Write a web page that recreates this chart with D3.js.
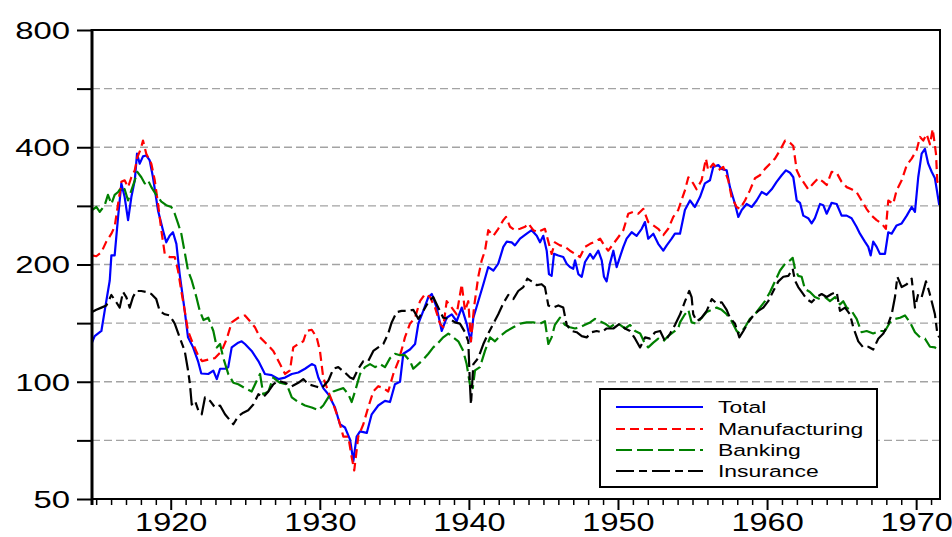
<!DOCTYPE html>
<html><head><meta charset="utf-8">
<script src="https://cdn.jsdelivr.net/npm/d3@7"></script>
<style>html,body{margin:0;padding:0;background:#fff;} svg{display:block;}</style>
</head><body>
<svg id="chart" width="952" height="537"></svg>
<script>
const seriesNames = ["Total", "Manufacturing", "Banking", "Insurance"];
const seriesColors = ["#0000ff", "#ff0000", "#008000", "#000000"];
const seriesDashes = [null, "9,5", "16,5", "18,5,8,5"];

const total = [[1914.72,126],[1914.9,131],[1915.35,135],[1915.57,152],[1915.91,182],[1916.02,211],[1916.24,211],[1916.47,265],[1916.69,323],[1916.91,298],[1917.14,260],[1917.36,298],[1917.59,329],[1917.74,385],[1917.92,363],[1918.14,379],[1918.36,381],[1918.59,370],[1918.81,335],[1919.15,275],[1919.48,245],[1919.7,228],[1919.93,237],[1920.15,242],[1920.38,226],[1920.6,189],[1920.94,152],[1921.16,130],[1921.5,122.6],[1921.83,113],[1922.05,105],[1922.52,104.7],[1922.86,106.8],[1923.09,101.6],[1923.31,108],[1923.64,108],[1923.86,109],[1924.09,122.5],[1924.53,126],[1924.76,127],[1924.98,125],[1925.43,120],[1925.88,113],[1926.32,104.7],[1926.77,104],[1927.22,101.6],[1927.67,102.5],[1928.12,104.7],[1928.56,105.6],[1929.01,108],[1929.46,111],[1929.68,110],[1929.9,102.5],[1930.23,96.3],[1930.57,92.9],[1931.02,85.9],[1931.35,77.8],[1931.69,76.3],[1932.03,71],[1932.25,62.6],[1932.47,72.3],[1932.7,74.6],[1933.15,73.9],[1933.48,82.5],[1933.92,86.9],[1934.37,89.3],[1934.71,88.7],[1935.04,98.5],[1935.38,100],[1935.6,118],[1936.05,121],[1936.39,125],[1936.61,141],[1936.94,152],[1937.28,165],[1937.51,168],[1937.84,155],[1938.18,135],[1938.51,146],[1938.85,149],[1939.18,143],[1939.52,155],[1939.85,141],[1940.12,127],[1940.3,146],[1940.63,161],[1940.97,178],[1941.3,197],[1941.64,193],[1941.97,201],[1942.31,222],[1942.54,229],[1942.87,228],[1943.09,224],[1943.43,233],[1943.88,240],[1944.21,245],[1944.55,237],[1944.77,228],[1944.99,237],[1945.22,217],[1945.37,189],[1945.55,187],[1945.71,213],[1946.0,211],[1946.33,209],[1946.56,201],[1946.78,197],[1947.0,195],[1947.12,205],[1947.34,189],[1947.57,186],[1947.79,203],[1948.13,213],[1948.34,207],[1948.68,217],[1948.91,205],[1949.06,186],[1949.24,181],[1949.46,201],[1949.69,217],[1949.91,197],[1950.13,209],[1950.36,222],[1950.58,233],[1950.92,242],[1951.25,237],[1951.59,247],[1951.81,257],[1952.03,233],[1952.37,240],[1952.7,226],[1953.04,217],[1953.27,224],[1953.6,233],[1953.82,240],[1954.16,240],[1954.49,276],[1954.83,292],[1955.16,281],[1955.5,298],[1955.83,323],[1956.17,329],[1956.39,356],[1956.73,360],[1956.95,352],[1957.29,349],[1957.51,316],[1957.85,286],[1958.07,265],[1958.3,276],[1958.63,286],[1958.97,281],[1959.3,292],[1959.64,307],[1959.97,302],[1960.31,312],[1960.64,326],[1960.98,339],[1961.27,349],[1961.54,344],[1961.76,335],[1961.99,292],[1962.21,288],[1962.43,267],[1962.76,263],[1962.99,255],[1963.21,263],[1963.55,286],[1963.77,284],[1964.0,270],[1964.33,288],[1964.67,286],[1965.0,267],[1965.34,267],[1965.67,263],[1966.0,250],[1966.23,240],[1966.56,229],[1966.79,222],[1966.95,211],[1967.12,229],[1967.35,222],[1967.57,213],[1967.91,213],[1968.13,242],[1968.36,240],[1968.69,252],[1969.03,255],[1969.37,267],[1969.7,281],[1969.92,273],[1970.14,335],[1970.37,385],[1970.59,396],[1970.81,363],[1971.04,346],[1971.26,333],[1971.55,284]];

const manufacturing = [[1914.72,211],[1915.01,210],[1915.35,215],[1915.68,229],[1916.02,240],[1916.24,250],[1916.47,286],[1916.69,326],[1916.91,329],[1917.14,316],[1917.36,335],[1917.59,349],[1917.76,377],[1917.99,396],[1918.14,416],[1918.36,385],[1918.7,363],[1918.93,329],[1919.15,286],[1919.37,245],[1919.6,213],[1919.93,209],[1920.27,209],[1920.49,193],[1920.71,171],[1920.94,152],[1921.16,135],[1921.5,125],[1921.83,117],[1922.1,113],[1922.52,114],[1922.97,115],[1923.42,120],[1923.76,129],[1924.09,142],[1924.53,146],[1924.98,148],[1925.32,143],[1925.65,138],[1925.99,130],[1926.44,125],[1926.88,120],[1927.33,111],[1927.67,104.7],[1928.0,107],[1928.22,122.5],[1928.56,125],[1928.89,127],[1929.12,135],[1929.46,136],[1929.79,130],[1930.01,120],[1930.23,102.5],[1930.57,94.4],[1930.91,87.4],[1931.24,80.6],[1931.58,72.3],[1931.91,72.3],[1932.14,64],[1932.31,59.2],[1932.58,72.3],[1932.92,77.8],[1933.25,86],[1933.59,94.4],[1933.92,97.4],[1934.26,96.3],[1934.59,94.4],[1934.93,104.7],[1935.27,113],[1935.6,125],[1935.71,130],[1936.05,141],[1936.39,146],[1936.72,161],[1937.06,168],[1937.39,165],[1937.73,155],[1938.06,141],[1938.28,138],[1938.51,161],[1938.85,155],[1939.18,149],[1939.52,178],[1939.74,152],[1939.96,161],[1940.14,127],[1940.34,155],[1940.63,186],[1940.86,205],[1941.08,217],[1941.3,245],[1941.64,237],[1941.97,247],[1942.31,260],[1942.49,265],[1942.76,250],[1943.09,245],[1943.43,247],[1943.77,250],[1943.98,255],[1944.32,245],[1944.65,242],[1944.88,245],[1945.1,247],[1945.33,229],[1945.55,213],[1945.77,228],[1946.11,224],[1946.44,222],[1946.78,217],[1947.12,213],[1947.45,209],[1947.79,222],[1948.13,226],[1948.46,229],[1948.8,233],[1949.14,222],[1949.35,217],[1949.69,226],[1950.02,235],[1950.36,245],[1950.69,270],[1951.03,273],[1951.36,270],[1951.7,278],[1952.03,257],[1952.37,252],[1952.7,247],[1953.04,238],[1953.37,247],[1953.71,265],[1954.04,276],[1954.49,310],[1954.72,335],[1955.05,323],[1955.27,312],[1955.61,329],[1955.9,374],[1956.05,349],[1956.39,363],[1956.73,349],[1957.06,356],[1957.4,329],[1957.62,298],[1957.96,281],[1958.18,278],[1958.52,292],[1958.85,310],[1959.19,333],[1959.52,339],[1959.86,352],[1960.2,363],[1960.53,374],[1960.87,393],[1961.21,416],[1961.54,411],[1961.76,403],[1961.99,349],[1962.21,335],[1962.43,326],[1962.76,312],[1963.1,323],[1963.43,333],[1963.77,326],[1964.0,320],[1964.33,346],[1964.67,344],[1965.0,326],[1965.34,316],[1965.67,312],[1966.0,307],[1966.34,292],[1966.67,278],[1967.01,267],[1967.35,260],[1967.68,255],[1967.97,247],[1968.13,292],[1968.46,286],[1968.69,310],[1969.03,329],[1969.37,360],[1969.7,374],[1970.03,393],[1970.26,425],[1970.48,416],[1970.7,432],[1970.93,407],[1971.11,446],[1971.33,385],[1971.42,326],[1971.55,329]];

const banking = [[1914.72,276],[1915.01,281],[1915.24,273],[1915.57,284],[1915.79,302],[1916.02,286],[1916.24,302],[1916.47,307],[1916.69,316],[1916.91,312],[1917.14,292],[1917.36,310],[1917.59,329],[1917.76,346],[1918.03,335],[1918.26,323],[1918.48,329],[1918.7,316],[1919.03,302],[1919.37,290],[1919.7,284],[1920.04,281],[1920.27,270],[1920.49,255],[1920.71,240],[1920.94,215],[1921.16,193],[1921.41,182],[1921.72,165],[1921.95,152],[1922.2,144],[1922.52,146],[1922.86,135],[1923.09,122.5],[1923.31,125],[1923.53,115],[1923.86,104.7],[1924.2,99.4],[1924.53,98.5],[1924.98,96.3],[1925.43,94.4],[1925.77,100.6],[1925.99,104.7],[1926.21,92.9],[1926.55,94.4],[1926.88,102.5],[1927.33,99.4],[1927.78,98.5],[1928.12,91.2],[1928.56,88.7],[1929.01,86.9],[1929.46,85.9],[1929.9,84.5],[1930.23,86.9],[1930.57,91.2],[1930.91,94.4],[1931.24,95.4],[1931.58,96.3],[1931.91,92.9],[1932.14,88.7],[1932.36,94.4],[1932.7,104.7],[1933.03,109],[1933.37,111],[1933.71,109],[1934.04,111],[1934.37,109],[1934.71,115],[1935.04,118],[1935.38,117],[1935.71,117],[1936.05,113],[1936.27,108],[1936.61,111],[1936.94,114],[1937.28,118],[1937.61,122.5],[1937.95,126],[1938.28,130],[1938.62,133],[1938.95,130],[1939.29,127],[1939.62,120],[1939.85,111],[1940.07,98.5],[1940.26,96.3],[1940.41,107],[1940.74,109],[1941.08,120],[1941.42,130],[1941.75,127],[1942.09,131],[1942.54,135],[1942.98,138],[1943.43,141],[1943.88,142],[1944.32,142],[1944.77,141],[1945.1,143],[1945.33,125],[1945.55,130],[1945.77,140],[1946.11,146],[1946.44,140],[1946.78,138],[1947.12,137],[1947.45,138],[1947.79,140],[1948.13,142],[1948.46,145],[1948.8,143],[1949.14,141],[1949.47,138],[1949.81,141],[1950.14,140],[1950.48,137],[1950.81,140],[1951.15,135],[1951.49,133],[1951.82,125],[1952.03,122.5],[1952.37,126],[1952.7,129],[1953.04,127],[1953.37,131],[1953.71,134],[1954.04,137],[1954.16,142],[1954.49,149],[1954.72,153],[1954.94,142],[1955.28,141],[1955.61,146],[1955.95,151],[1956.29,153],[1956.62,155],[1956.96,153],[1957.29,149],[1957.63,143],[1957.96,135],[1958.18,133],[1958.52,138],[1958.85,145],[1959.19,149],[1959.52,155],[1959.86,161],[1960.2,170],[1960.53,181],[1960.87,193],[1961.21,201],[1961.54,205],[1961.72,208],[1961.87,195],[1962.09,187],[1962.32,186],[1962.54,173],[1962.88,170],[1963.21,165],[1963.55,163],[1963.89,165],[1964.22,161],[1964.56,165],[1964.89,158],[1965.11,161],[1965.34,155],[1965.67,152],[1966.01,145],[1966.34,134],[1966.68,135],[1967.12,133],[1967.57,135],[1967.91,135],[1968.24,142],[1968.58,145],[1968.92,146],[1969.25,148],[1969.59,142],[1969.92,134],[1970.26,130],[1970.59,129],[1970.93,123],[1971.26,122.5],[1971.55,120]];

const insurance = [[1914.72,151],[1915.01,153],[1915.35,155],[1915.68,157],[1916.02,167],[1916.35,160],[1916.58,155],[1916.8,170],[1917.02,165],[1917.25,155],[1917.47,165],[1917.69,171],[1918.03,171],[1918.36,170],[1918.7,168],[1919.03,163],[1919.26,152],[1919.6,149],[1919.93,148],[1920.27,141],[1920.6,130],[1920.94,120],[1921.16,107],[1921.29,98.5],[1921.41,87.4],[1921.63,89.3],[1921.85,84.5],[1922.08,82.5],[1922.3,91.2],[1922.64,89.3],[1922.97,85.9],[1923.31,86.9],[1923.64,82.5],[1923.98,79.6],[1924.2,77.8],[1924.53,81.6],[1924.87,83.3],[1925.2,84.5],[1925.54,87.4],[1925.88,92.9],[1926.21,91.2],[1926.55,94.4],[1926.88,98.5],[1927.22,100.6],[1927.67,99.4],[1928.12,97.4],[1928.56,99.4],[1928.89,101.6],[1929.23,98.5],[1929.68,97.4],[1930.13,96.3],[1930.57,100.6],[1930.91,108],[1931.24,109],[1931.69,105.6],[1932.03,102.5],[1932.25,101.6],[1932.58,108],[1932.92,113],[1933.25,113],[1933.59,120],[1933.92,122.5],[1934.26,125],[1934.59,133],[1934.82,142],[1935.16,151],[1935.49,152],[1935.83,152],[1936.27,153],[1936.61,145],[1936.94,152],[1937.28,160],[1937.61,165],[1937.95,155],[1938.28,146],[1938.73,145],[1939.07,142],[1939.4,141],[1939.74,134],[1939.96,127],[1940.07,98.5],[1940.14,87.4],[1940.3,111],[1940.63,115],[1940.97,125],[1941.3,133],[1941.64,141],[1941.97,149],[1942.31,159],[1942.64,167],[1942.98,163],[1943.31,171],[1943.65,175],[1943.92,184],[1944.21,181],[1944.55,177],[1944.88,178],[1945.1,175],[1945.33,157],[1945.66,155],[1946.0,157],[1946.33,155],[1946.56,140],[1946.89,135],[1947.23,134],[1947.57,131],[1947.9,130],[1948.24,134],[1948.57,135],[1948.91,134],[1949.24,137],[1949.69,137],[1950.13,141],[1950.47,137],[1950.81,135],[1951.15,129],[1951.48,122.5],[1951.82,130],[1952.15,129],[1952.49,134],[1952.83,135],[1953.16,127],[1953.5,133],[1953.83,140],[1954.17,149],[1954.5,161],[1954.78,171],[1954.94,165],[1955.05,149],[1955.28,143],[1955.61,146],[1955.95,152],[1956.29,163],[1956.62,159],[1956.96,160],[1957.29,153],[1957.51,146],[1957.85,141],[1958.14,130],[1958.41,135],[1958.74,142],[1959.08,148],[1959.41,152],[1959.75,155],[1960.08,161],[1960.42,171],[1960.76,181],[1961.09,186],[1961.43,187],[1961.72,195],[1961.87,182],[1962.09,175],[1962.32,170],[1962.66,163],[1962.99,160],[1963.33,165],[1963.66,168],[1964.0,165],[1964.33,168],[1964.67,170],[1964.89,152],[1965.23,155],[1965.56,149],[1965.78,138],[1966.12,127],[1966.45,122.5],[1966.79,123],[1967.12,121],[1967.46,129],[1967.8,133],[1968.13,141],[1968.36,149],[1968.58,165],[1968.74,186],[1969.03,175],[1969.37,178],[1969.7,184],[1969.92,155],[1970.14,168],[1970.37,165],[1970.66,181],[1970.88,170],[1971.04,161],[1971.26,149],[1971.42,133],[1971.55,130]];

const yTickValues = [50, 70.71, 100, 141.42, 200, 282.84, 400, 565.69, 800];
const yTickLabels = ["50", "", "100", "", "200", "", "400", "", "800"];
const xMajorYears = [1920, 1930, 1940, 1950, 1960, 1970];
const xMinorYears = [1915,1916,1917,1918,1919,1921,1922,1923,1924,1925,1926,1927,1928,1929,1931,1932,1933,1934,1935,1936,1937,1938,1939,1941,1942,1943,1944,1945,1946,1947,1948,1949,1951,1952,1953,1954,1955,1956,1957,1958,1959,1961,1962,1963,1964,1965,1966,1967,1968,1969,1971];

const FONT = "'Liberation Sans', Arial, Helvetica, sans-serif";
const plot = {left: 92, right: 940, top: 30, bottom: 499};
const svg = d3.select("#chart");
const x = d3.scaleLinear().domain([1914.72, 1971.6]).range([plot.left, plot.right]);
const y = d3.scaleLog().domain([50, 800]).range([plot.bottom, plot.top]);

svg.append("rect").attr("width", 952).attr("height", 537).attr("fill", "#fff");

// gridlines
svg.append("g").selectAll("line")
  .data(yTickValues.filter(v => v > 50 && v < 800))
  .join("line")
  .attr("x1", plot.left).attr("x2", plot.right)
  .attr("y1", d => y(d)).attr("y2", d => y(d))
  .attr("stroke", "#a3a3a3").attr("stroke-width", 1.4)
  .attr("stroke-dasharray", "8,4");

// clip
svg.append("clipPath").attr("id", "clip").append("rect")
  .attr("x", plot.left).attr("y", plot.top)
  .attr("width", plot.right - plot.left).attr("height", plot.bottom - plot.top);

const line = d3.line().x(d => x(d[0])).y(d => y(d[1]));
const allSeries = [total, manufacturing, banking, insurance];
const lines = svg.append("g").attr("clip-path", "url(#clip)");
allSeries.forEach((s, i) => {
  lines.append("path").datum(s)
    .attr("d", line)
    .attr("fill", "none")
    .attr("stroke", seriesColors[i])
    .attr("stroke-width", 2.2)
    .attr("stroke-linejoin", "round")
    .attr("stroke-dasharray", seriesDashes[i]);
});

// y axis
const yAxis = d3.axisLeft(y).tickValues(yTickValues)
  .tickFormat((d, i) => yTickLabels[i]).tickSizeInner(15).tickSizeOuter(0).tickPadding(0);
const gy = svg.append("g").attr("transform", `translate(${plot.left},0)`).call(yAxis);
gy.select(".domain").remove();
gy.selectAll(".tick line").attr("stroke", "#000").attr("stroke-width", 2);
gy.selectAll(".tick text")
  .attr("font-family", FONT).attr("font-size", 23).attr("fill", "#000")
  .attr("text-anchor", "end")
  .attr("x", -22 / 1.43).attr("dy", "0.36em")
  .attr("transform", "scale(1.43,1)");

// x axis minor
const xMinor = d3.axisBottom(x).tickValues(xMinorYears).tickFormat("").tickSizeInner(6).tickSizeOuter(0);
const gxm = svg.append("g").attr("transform", `translate(0,${plot.bottom})`).call(xMinor);
gxm.select(".domain").remove();
gxm.selectAll(".tick line").attr("stroke", "#000").attr("stroke-width", 1.5);

const xMajor = d3.axisBottom(x).tickValues(xMajorYears).tickFormat(d3.format("d")).tickSizeInner(11).tickSizeOuter(0);
const gx = svg.append("g").attr("transform", `translate(0,${plot.bottom})`).call(xMajor);
gx.select(".domain").remove();
gx.selectAll(".tick line").attr("stroke", "#000").attr("stroke-width", 2);
gx.selectAll(".tick text")
  .attr("font-family", FONT).attr("font-size", 25).attr("fill", "#000")
  .attr("y", 32).attr("dy", 0)
  .attr("transform", "scale(1.3,1)");

// frame
svg.append("rect")
  .attr("x", plot.left).attr("y", plot.top)
  .attr("width", plot.right - plot.left).attr("height", plot.bottom - plot.top)
  .attr("fill", "none").attr("stroke", "#000").attr("stroke-width", 2);
svg.append("line").attr("x1", plot.left).attr("x2", plot.left)
  .attr("y1", plot.top - 1).attr("y2", plot.bottom + 6)
  .attr("stroke", "#000").attr("stroke-width", 3);

// legend
const lg = svg.append("g");
lg.append("rect").attr("x", 600).attr("y", 389).attr("width", 277).attr("height", 98)
  .attr("fill", "#fff").attr("stroke", "#000").attr("stroke-width", 2);
const rowY = [407, 429, 450, 471];
seriesNames.forEach((name, i) => {
  lg.append("line").attr("x1", 616).attr("x2", 703)
    .attr("y1", rowY[i]).attr("y2", rowY[i])
    .attr("stroke", seriesColors[i]).attr("stroke-width", 2)
    .attr("stroke-dasharray", seriesDashes[i]);
  lg.append("text")
    .attr("transform", `translate(718,${rowY[i] + 5.5}) scale(1.39,1)`)
    .attr("font-family", FONT).attr("font-size", 16.5).attr("fill", "#000")
    .text(name);
});
</script>
</body></html>
